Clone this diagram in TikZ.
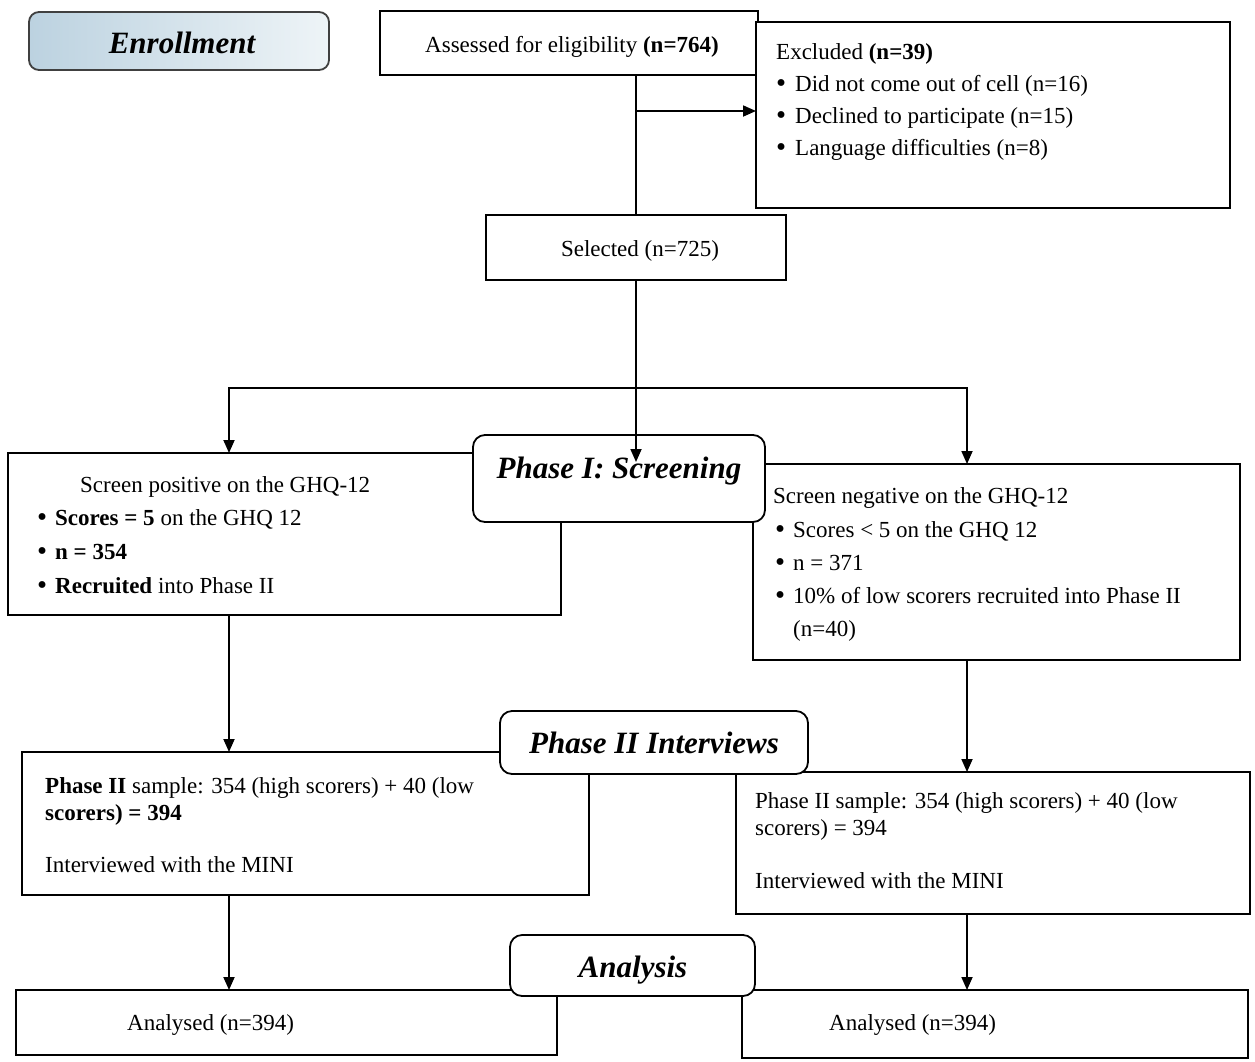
\documentclass[tikz,border=0pt]{standalone}
\usepackage{fontspec}
\usepackage{graphicx}
\setmainfont{Liberation Serif}
\usetikzlibrary{arrows.meta,calc}
\newcommand\bitem[1][19pt]{\makebox[#1][l]{\raisebox{-0.06em}{\scalebox{1.25}{\textbullet}}}}
\begin{document}
\begin{tikzpicture}[x=1pt,y=-1pt,
  box/.style={draw, line width=1.8pt, fill=white, inner sep=0pt, outer sep=0pt, anchor=north west},
  phasebox/.style={draw, line width=1.8pt, fill=white, rounded corners=12pt, inner sep=0pt, outer sep=0pt, anchor=north west},
  lbl/.style={inner sep=0pt, anchor=base west, font=\fontsize{23}{27}\selectfont},
  clbl/.style={lbl, anchor=base},
  head/.style={inner sep=0pt, anchor=base, font=\fontsize{31}{36}\selectfont\bfseries\itshape},
  conn/.style={line width=1.8pt},
  arr/.style={line width=1.8pt, -{Triangle[length=13pt,width=11pt]}},
]
\useasboundingbox[fill=white] (0,0) rectangle (1255,1061);

% column guides
\coordinate (colL) at (229,0);
\coordinate (colM) at (636,0);
\coordinate (colR) at (967,0);

% ---------- Enrollment ----------
\node[phasebox, rounded corners=10pt, draw=black!75, minimum width=300pt, minimum height=58pt,
      left color={rgb,255:red,188;green,210;blue,224}, right color={rgb,255:red,238;green,244;blue,247}] (enr) at (29,12) {};
\node[head] (enrT) at (182,53) {Enrollment};

\node[box, minimum width=378pt, minimum height=64pt] (assess) at (380,11) {};
\node[clbl] (assessT) at (572,52) {Assessed for eligibility \textbf{(n=764)}};

\node[box, minimum width=474pt, minimum height=186pt] (excl) at (756,22) {};
\node[lbl] (ex0) at (776,59) {Excluded \textbf{(n=39)}};
\node[lbl] (ex1) at (776,91) {\bitem Did not come out of cell (n=16)};
\node[lbl] (ex2) at (776,123) {\bitem Declined to participate (n=15)};
\node[lbl] (ex3) at (776,155) {\bitem Language difficulties (n=8)};

\node[box, minimum width=300pt, minimum height=65pt] (sel) at (486,215) {};
\node[clbl] (selT) at (640,256) {Selected (n=725)};

\coordinate (j1) at (636,111);
\coordinate (split) at (636,388);
\draw[conn] (assess.south -| colM) -- (sel.north -| colM);
\draw[arr] (j1) -- (j1 -| excl.west);
\draw[conn] (sel.south -| colM) -- (split);

% ---------- Phase I ----------
\node[box, minimum width=553pt, minimum height=162pt] (scrL) at (8,453) {};
\node[box, minimum width=487pt, minimum height=196pt] (scrR) at (753,464) {};
\node[phasebox, minimum width=292pt, minimum height=87pt] (ph1) at (473,435) {};
\node[head] (ph1T) at (619,478) {Phase I: Screening};

\draw[arr] (split) -| (scrL.north -| colL);
\draw[arr] (split) -| (scrR.north -| colR);
\draw[arr] (split) -- ($(ph1.north -| colM)+(0,27)$);

\node[lbl] (sl0) at (80,492) {Screen positive on the GHQ-12};
\node[lbl] (sl1) at (37,525) {\bitem[18pt]\textbf{Scores = 5} on the GHQ 12};
\node[lbl] (sl2) at (37,559) {\bitem[18pt]\textbf{n = 354}};
\node[lbl] (sl3) at (37,593) {\bitem[18pt]\textbf{Recruited} into Phase II};

\node[lbl] (sr0) at (773,503) {Screen negative on the GHQ-12};
\node[lbl] (sr1) at (775,537) {\bitem[18pt]Scores < 5 on the GHQ 12};
\node[lbl] (sr2) at (775,570) {\bitem[18pt]n = 371};
\node[lbl] (sr3) at (775,603) {\bitem[18pt]10\% of low scorers recruited into Phase II};
\node[lbl] (sr4) at (793,636) {(n=40)};

% ---------- Phase II ----------
\node[box, minimum width=567pt, minimum height=143pt] (p2L) at (22,752) {};
\node[box, minimum width=514pt, minimum height=142pt] (p2R) at (736,772) {};
\node[phasebox, minimum width=308pt, minimum height=63pt] (ph2) at (500,711) {};
\node[head] (ph2T) at (654,753) {Phase II Interviews};

\draw[arr] (scrL.south -| colL) -- (p2L.north -| colL);
\draw[arr] (scrR.south -| colR) -- (p2R.north -| colR);

\node[lbl] (pl0) at (45,793) {\textbf{Phase II} sample: 354 (high scorers) + 40 (low};
\node[lbl] (pl1) at (45,820) {\textbf{scorers) = 394}};
\node[lbl] (pl2) at (45,872) {Interviewed with the MINI};

\node[lbl] (pr0) at (755,808) {Phase II sample: 354 (high scorers) + 40 (low};
\node[lbl] (pr1) at (755,835) {scorers) = 394};
\node[lbl] (pr2) at (755,888) {Interviewed with the MINI};

% ---------- Analysis ----------
\node[box, minimum width=541pt, minimum height=65pt] (anL) at (16,990) {};
\node[box, minimum width=506pt, minimum height=68pt] (anR) at (742,990) {};
\node[phasebox, minimum width=245pt, minimum height=61pt] (ana) at (510,935) {};
\node[head] (anaT) at (633,977) {Analysis};

\draw[arr] (p2L.south -| colL) -- (anL.north -| colL);
\draw[arr] (p2R.south -| colR) -- (anR.north -| colR);

\node[lbl] (alT) at (127,1030) {Analysed (n=394)};
\node[lbl] (arT) at (829,1030) {Analysed (n=394)};
\end{tikzpicture}
\end{document}
